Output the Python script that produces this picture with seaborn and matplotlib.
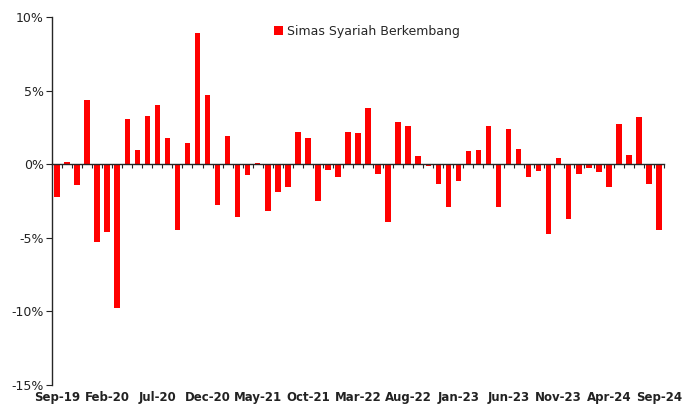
import numpy as np
import pandas as pd
import seaborn as sns
import matplotlib.pyplot as plt
from matplotlib.ticker import FuncFormatter

# monthly return, Sep-19 .. Sep-24 (in %)
months = pd.date_range("2019-09-01", "2024-09-01", freq="MS").strftime("%b-%y").tolist()
returns = [-2.2, 0.15, -1.4, 4.35, -5.3, -4.6, -9.75, 3.05, 1.0, 3.3,
           4.0, 1.8, -4.5, 1.45, 8.9, 4.7, -2.8, 1.9, -3.6, -0.75,
           0.1, -3.2, -1.9, -1.55, 2.2, 1.75, -2.5, -0.4, -0.85, 2.2,
           2.15, 3.8, -0.65, -3.9, 2.85, 2.6, 0.55, -0.15, -1.35, -2.9,
           -1.15, 0.9, 1.0, 2.6, -2.9, 2.4, 1.05, -0.85, -0.45, -4.75,
           0.45, -3.7, -0.65, -0.25, -0.5, -1.55, 2.7, 0.65, 3.2, -1.35,
           -4.45]
label_every = 5
series_name = "Simas Syariah Berkembang"

df = pd.DataFrame({"month": months, "ret": returns})

sns.set_style("white")
plt.rcParams['font.family'] = ['DejaVu Sans']

fig = plt.figure(figsize=(6.91, 4.09), dpi=100)
ax = fig.add_axes([0.0753, 0.0587, 0.8857, 0.8996])

sns.barplot(data=df, x="month", y="ret", color="#ff0000", width=0.55,
            saturation=1, linewidth=0, label=series_name, ax=ax)

ax.set_xlim(-0.5, len(months) - 0.5)
ax.set_ylim(-15, 10)
ax.set_yticks([-15, -10, -5, 0, 5, 10])
ax.yaxis.set_major_formatter(FuncFormatter(lambda v, p: f"{v:.0f}%"))
ax.tick_params(axis='y', left=True, length=4, width=0.8, labelsize=9,
               colors='#222222', pad=2)

# category axis sits on the zero line, labels at the bottom
for s in ["top", "right"]:
    ax.spines[s].set_visible(False)
ax.spines["bottom"].set_position(("data", 0))
ax.spines["bottom"].set_linewidth(1.0)
ax.spines["left"].set_linewidth(1.0)
ax.set_xticks(np.arange(-0.5, len(months), 1))
ax.set_xticklabels([])
ax.tick_params(axis='x', bottom=True, length=3, width=0.8, direction='out')

for i in range(0, len(months), label_every):
    ax.text(i, -0.015, months[i], transform=ax.get_xaxis_transform(),
            ha="center", va="top", fontsize=8.5, fontweight="semibold",
            color="#222222")

ax.set_xlabel("")
ax.set_ylabel("")

ax.legend(loc="upper left", bbox_to_anchor=(0.345, 1.01), frameon=False,
          handlelength=0.7, handleheight=0.7, handletextpad=0.3, fontsize=9)

fig.savefig("out.png", dpi=100)
